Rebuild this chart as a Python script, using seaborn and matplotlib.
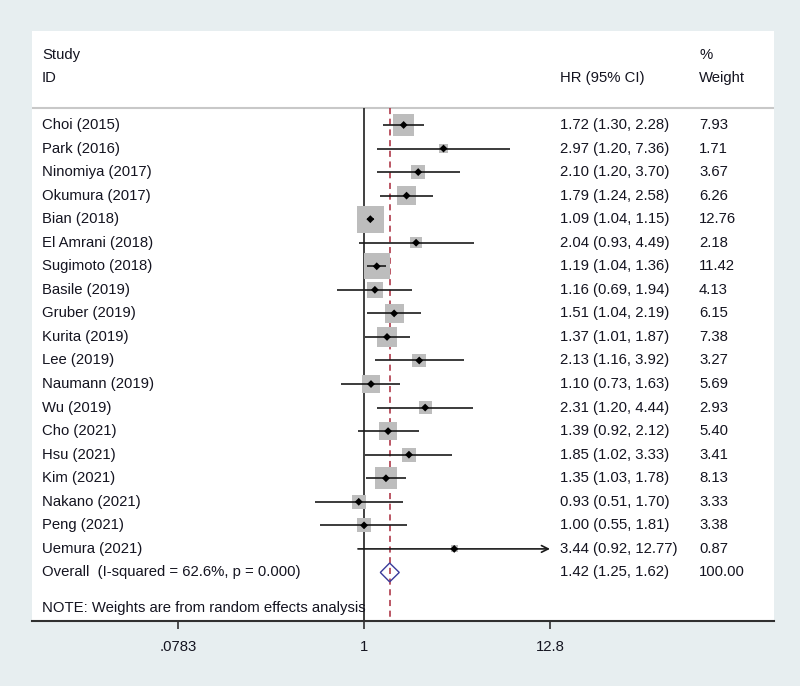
import numpy as np
import pandas as pd
import seaborn as sns
import matplotlib.pyplot as plt

studies = ["Choi (2015)", "Park (2016)", "Ninomiya (2017)", "Okumura (2017)", "Bian (2018)",
           "El Amrani (2018)", "Sugimoto (2018)", "Basile (2019)", "Gruber (2019)", "Kurita (2019)",
           "Lee (2019)", "Naumann (2019)", "Wu (2019)", "Cho (2021)", "Hsu (2021)",
           "Kim (2021)", "Nakano (2021)", "Peng (2021)", "Uemura (2021)"]
hr = [1.72, 2.97, 2.10, 1.79, 1.09, 2.04, 1.19, 1.16, 1.51, 1.37, 2.13, 1.10, 2.31, 1.39, 1.85, 1.35, 0.93, 1.00, 3.44]
lo = [1.30, 1.20, 1.20, 1.24, 1.04, 0.93, 1.04, 0.69, 1.04, 1.01, 1.16, 0.73, 1.20, 0.92, 1.02, 1.03, 0.51, 0.55, 0.92]
hi = [2.28, 7.36, 3.70, 2.58, 1.15, 4.49, 1.36, 1.94, 2.19, 1.87, 3.92, 1.63, 4.44, 2.12, 3.33, 1.78, 1.70, 1.81, 12.77]
weight = [7.93, 1.71, 3.67, 6.26, 12.76, 2.18, 11.42, 4.13, 6.15, 7.38, 3.27, 5.69, 2.93, 5.40, 3.41, 8.13, 3.33, 3.38, 0.87]
overall = (1.42, 1.25, 1.62)
overall_label = "Overall  (I-squared = 62.6%, p = 0.000)"
note = "NOTE: Weights are from random effects analysis"
xticks = [0.0783, 1, 12.8]
xticklabels = [".0783", "1", "12.8"]

df = pd.DataFrame({"study": studies, "hr": hr, "lo": lo, "hi": hi, "weight": weight})
df["row"] = np.arange(len(df))

bg = "#e7eef0"
txt = "#141420"
fs = 10.7
sns.set_style("white")
plt.rcParams['font.family'] = ['Liberation Sans', 'DejaVu Sans']

fig = plt.figure(figsize=(8, 6.86), dpi=100, facecolor=bg)
ax = fig.add_axes([0.04, 0.0948, 0.9275, 0.86])
ax.set_facecolor("white")
ax.set_xscale("log")
xmax_clip = 12.8
ax.set_xlim(0.01058, 274.8)
ax.set_ylim(21.06, -3.99)
tr = ax.get_yaxis_transform()

# header
ax.axhline(-0.72, color="#c8c8c8", lw=1.5)
ax.text(0.0135, -2.97, "Study", transform=tr, va="center", fontsize=fs, color=txt)
ax.text(0.0135, -2.0, "ID", transform=tr, va="center", fontsize=fs, color=txt)
ax.text(0.7116, -2.0, "HR (95% CI)", transform=tr, va="center", fontsize=fs, color=txt)
ax.text(0.899, -2.97, "%", transform=tr, va="center", fontsize=fs, color=txt)
ax.text(0.899, -2.0, "Weight", transform=tr, va="center", fontsize=fs, color=txt)

# reference lines
ax.vlines(1, -0.72, 21.06, color="#303030", lw=1.3, zorder=2)
ax.vlines(overall[0], -0.72, 21.06, color="#a8283a", lw=1.1, linestyles=(0, (4, 3)), zorder=2)

# weight boxes (area proportional to weight)
sns.scatterplot(data=df, x="hr", y="row", size="weight", size_norm=(0, max(weight)),
                sizes=(0, 380), marker="s", color="#bdbdbd", edgecolor="none",
                legend=False, ax=ax, zorder=3)

# confidence intervals, ones reaching the axis end get an arrow
hi_clip = np.minimum(df["hi"], xmax_clip)
at_edge = df["hi"] >= xmax_clip * 0.99
ax.hlines(df["row"][~at_edge], df["lo"][~at_edge], hi_clip[~at_edge], color="#1a1a1a", lw=1.2, zorder=4)
for r, l, h in zip(df["row"][at_edge], df["lo"][at_edge], hi_clip[at_edge]):
    ax.annotate("", xy=(h, r), xytext=(l, r),
                xycoords="data", textcoords="data",
                arrowprops=dict(arrowstyle="->", color="#1a1a1a", lw=1.2,
                                shrinkA=0, shrinkB=0, mutation_scale=12))

sns.scatterplot(data=df, x="hr", y="row", marker="D", s=16, color="black",
                edgecolor="none", ax=ax, zorder=5)

# overall diamond
orow = len(df)
ax.fill([overall[1], overall[0], overall[2], overall[0], overall[1]],
        [orow, orow - 0.4, orow, orow + 0.4, orow],
        facecolor="none", edgecolor="#3a3a9a", lw=1.0, zorder=5)

# text columns
for r, s, h, l, u, w in zip(df["row"], studies, hr, lo, hi, weight):
    ax.text(0.0135, r, s, transform=tr, va="center", fontsize=fs, color=txt)
    ax.text(0.7116, r, f"{h:.2f} ({l:.2f}, {u:.2f})", transform=tr,
            va="center", fontsize=fs, color=txt)
    ax.text(0.899, r, f"{w:.2f}", transform=tr, va="center", fontsize=fs, color=txt)
ax.text(0.0135, orow, overall_label, transform=tr, va="center", fontsize=fs, color=txt)
ax.text(0.7116, orow, f"{overall[0]:.2f} ({overall[1]:.2f}, {overall[2]:.2f})",
        transform=tr, va="center", fontsize=fs, color=txt)
ax.text(0.899, orow, "100.00", transform=tr, va="center", fontsize=fs, color=txt)
ax.text(0.0135, orow + 1.5, note, transform=tr, va="center", fontsize=fs, color=txt)

# axes styling
for side in ["top", "left", "right"]:
    ax.spines[side].set_visible(False)
ax.spines["bottom"].set_color("#303030")
ax.spines["bottom"].set_linewidth(1.5)
ax.set_yticks([])
ax.set_xticks(xticks)
ax.set_xticklabels(xticklabels)
ax.minorticks_off()
ax.tick_params(axis="x", direction="out", length=6, width=1.2, color="#303030",
               labelsize=fs, labelcolor=txt, pad=8, bottom=True)
ax.set_xlabel("")
ax.set_ylabel("")

fig.savefig("out.png", dpi=100, facecolor=bg)
